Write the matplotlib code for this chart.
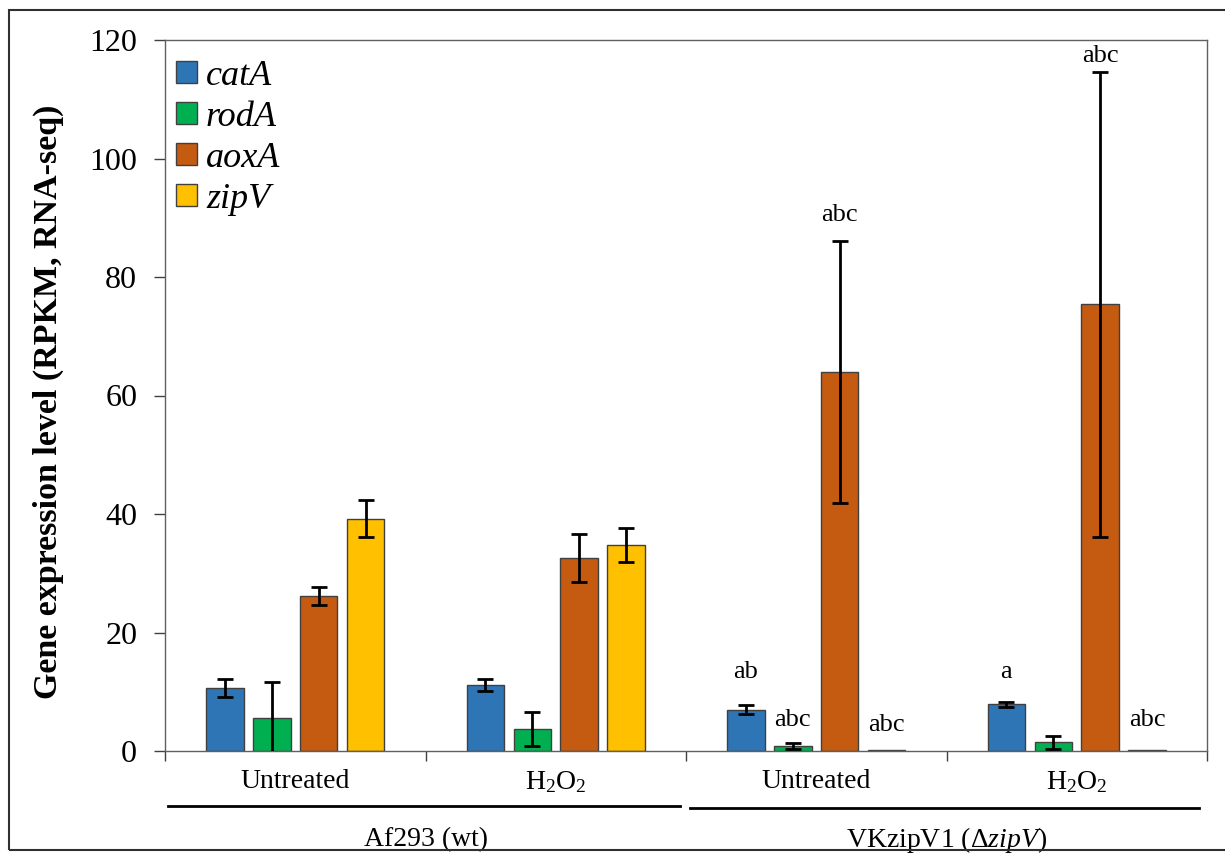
import numpy as np
import matplotlib.pyplot as plt
from matplotlib.patches import Rectangle

plt.rcParams['font.family'] = ['Liberation Serif', 'DejaVu Serif']
plt.rcParams['mathtext.fontset'] = 'custom'
plt.rcParams['mathtext.rm'] = 'Liberation Serif'
plt.rcParams['mathtext.it'] = 'Liberation Serif:italic'

# Data
genes = ['catA', 'rodA', 'aoxA', 'zipV']
conditions = ['Untreated', r'H$_2$O$_2$', 'Untreated', r'H$_2$O$_2$']
strains = ['Af293 (wt)', r'VKzipV1 (Δ$\mathit{zipV}$)']

catA = [10.6, 11.1, 7.0, 7.9]
rodA = [5.6, 3.7, 0.9, 1.5]
aoxA = [26.1, 32.5, 64.0, 75.4]
zipV = [39.2, 34.8, 0.15, 0.15]

catA_err = [1.5, 1.05, 0.75, 0.45]
rodA_err = [6.1, 2.8, 0.5, 1.1]
aoxA_err = [1.5, 4.05, 22.1, 39.2]
zipV_err = [3.1, 2.9, 0.0, 0.0]

# significance letters: (condition index, gene index, text, y)
sig_cond = [2, 2, 2, 2, 3, 3, 3]
sig_gene = [0, 1, 2, 3, 0, 2, 3]
sig_text = ['ab', 'abc', 'abc', 'abc', 'a', 'abc', 'abc']
sig_y = [13.3, 5.2, 90.5, 4.4, 13.3, 117.3, 5.2]

colors = ['#2E75B6', '#00B050', '#C55A11', '#FFC000']

values = [catA, rodA, aoxA, zipV]
errors = [catA_err, rodA_err, aoxA_err, zipV_err]

fig = plt.figure(figsize=(12.25, 8.6), dpi=100)
ax = fig.add_axes([165 / 1225, 109 / 860, 1042 / 1225, 711 / 860])

step = 0.18
width = 0.144
x = np.arange(len(conditions)) + 0.5
for i, g in enumerate(genes):
    xi = x + (i - 1.5) * step
    ax.bar(xi, values[i], width, color=colors[i], edgecolor='#404040',
           linewidth=1.0, label=g, zorder=2)
    err = np.array(errors[i])
    mask = err > 0
    ax.errorbar(xi[mask], np.array(values[i])[mask], yerr=err[mask], fmt='none',
                ecolor='black', elinewidth=2, capsize=6, capthick=2, zorder=3)

for c, gi, t, yv in zip(sig_cond, sig_gene, sig_text, sig_y):
    ax.text(x[c] + (gi - 1.5) * step, yv, t, ha='center', va='center', fontsize=19)

ax.set_xlim(0, 4)
ax.set_ylim(0, 120)
ax.set_yticks(range(0, 121, 20))
ax.tick_params(axis='y', direction='out', length=8, width=1, color='#404040',
               labelsize=23, pad=12)
ax.set_xticks([0, 1, 2, 3, 4])
ax.set_xticklabels([])
ax.tick_params(axis='x', direction='out', length=7, width=1, color='#404040')
ax.set_xticks(x, minor=True)
ax.set_xticklabels(conditions, minor=True, fontsize=20)
ax.tick_params(axis='x', which='minor', length=0, pad=13)
for s in ax.spines.values():
    s.set_color('#606060')
    s.set_linewidth(1.0)

# strain lines and labels
trans = ax.get_xaxis_transform()
ax.plot([0.012, 1.977], [-0.0774, -0.0774], color='black', lw=2, transform=trans, clip_on=False)
ax.plot([2.015, 3.97], [-0.080, -0.080], color='black', lw=2, transform=trans, clip_on=False)
ax.text(1.0, -0.125, strains[0], ha='center', va='center', fontsize=20, transform=trans)
ax.text(3.0, -0.125, strains[1], ha='center', va='center', fontsize=20, transform=trans)

fig.text(48 / 1225, 1 - 402 / 860, 'Gene expression level (RPKM, RNA-seq)',
         rotation=90, ha='center', va='center', fontsize=24.5, fontweight='bold')

leg = ax.legend(loc='upper left', bbox_to_anchor=(-0.0085, 1.0), frameon=False,
                prop={'style': 'italic', 'size': 26},
                handlelength=0.58, handleheight=0.58, handletextpad=0.25,
                labelspacing=0.22, borderaxespad=0.0, borderpad=0.55)

fig.patches.append(Rectangle((9 / 1225, 10 / 860), 1.0, 840 / 860, transform=fig.transFigure,
                             fill=False, edgecolor='#303030', linewidth=1.5))

fig.savefig('out.png', dpi=100)
